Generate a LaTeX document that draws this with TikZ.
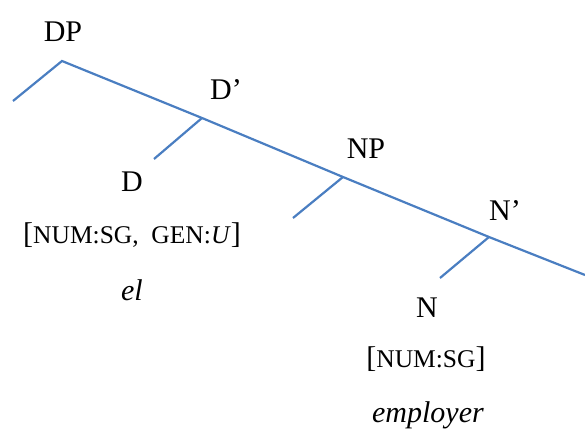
\documentclass[tikz,border=0pt]{standalone}
\usepackage{fontspec}
\setmainfont{Liberation Serif}
\definecolor{branch}{RGB}{74,126,193}
\tikzset{
  lab/.style={anchor=base, inner sep=0pt, font=\fontsize{30}{36}\selectfont},
  feat/.style={anchor=base, inner sep=0pt, font=\fontsize{30}{36}\selectfont},
  edge/.style={draw=branch, line width=2.2pt},
}
\newcommand{\fsz}[1]{{\fontsize{25.5}{30}\selectfont #1}}
\begin{document}
\begin{tikzpicture}[x=1pt,y=-1pt]
\useasboundingbox (0,0) rectangle (585,430);
% vertices
\coordinate (vDP) at (62,61);
\coordinate (lDP) at (13,101);
\coordinate (vDb) at (202,118);
\coordinate (lD) at (154,159);
\coordinate (vNP) at (343,177);
\coordinate (lNP) at (293,218);
\coordinate (vNb) at (489,237);
\coordinate (lN) at (440,278);
\coordinate (rEnd) at (585,275);
% branches
\draw[edge] (lDP) -- (vDP) -- (vDb) -- (vNP) -- (vNb) -- (rEnd);
\draw[edge] (vDb) -- (lD);
\draw[edge] (vNP) -- (lNP);
\draw[edge] (vNb) -- (lN);
% labels
\node[lab] (DP) at (63,42) {DP};
\node[lab] (Dbar) at (226,100) {D’};
\node[lab] (NP) at (366,159) {NP};
\node[lab] (Nbar) at (505,220) {N’};
\node[lab] (D) at (132,192) {D};
\node[feat] (Dfeat) at (132,243) {[\fsz{NUM:SG,\ \ GEN:\textit{U}}]};
\node[lab] (el) at (132,300) {\textit{el}};
\node[lab] (N) at (427,317) {N};
\node[feat] (Nfeat) at (426,367) {[\fsz{NUM:SG}]};
\node[lab] (emp) at (428,422) {\textit{employer}};
\end{tikzpicture}
\end{document}
